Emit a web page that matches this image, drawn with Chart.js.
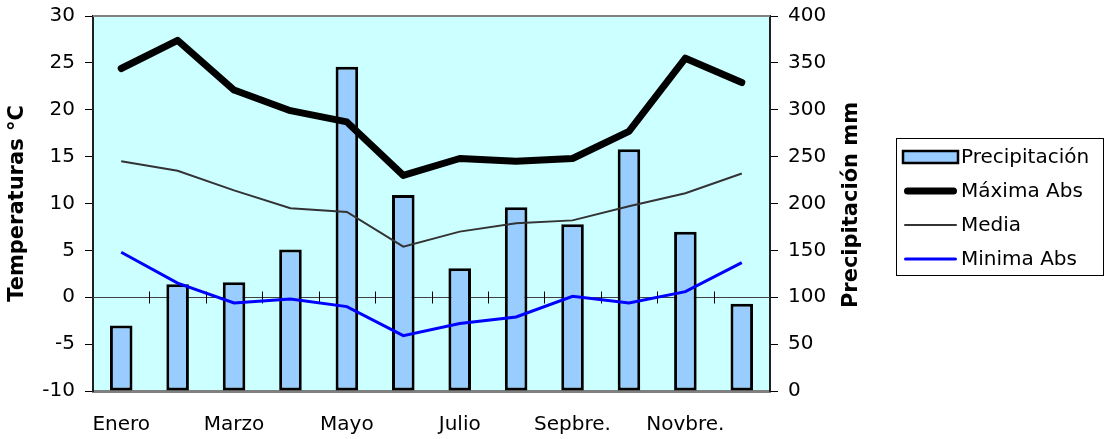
<!DOCTYPE html>
<html>
<head>
<meta charset="utf-8">
<script src="https://cdn.jsdelivr.net/npm/chart.js@4"></script>
<style>
  html, body { margin: 0; padding: 0; background: #fff; }
</style>
</head>
<body>
<canvas id="climaChart" width="1107" height="439"></canvas>
<script>
const months = ['Enero', 'Febrero', 'Marzo', 'Abril', 'Mayo', 'Junio', 'Julio', 'Agosto', 'Sepbre.', 'Octubre', 'Novbre.', 'Dicbre.'];
const precipitacion = [70, 114, 116, 151, 346, 209, 131, 196, 178, 258, 170, 93];
const maximaAbs = [24.4, 27.4, 22.1, 19.9, 18.7, 13.0, 14.8, 14.5, 14.8, 17.7, 25.5, 22.9];
const media = [14.5, 13.5, 11.4, 9.5, 9.1, 5.4, 7.0, 7.9, 8.2, 9.7, 11.1, 13.2];
const minimaAbs = [4.8, 1.5, -0.6, -0.2, -1.0, -4.1, -2.8, -2.1, 0.1, -0.6, 0.6, 3.7];
const tempRange = [-10, 30, 5]; // min, max, step
const precRange = [0, 400, 50];

const FONT = 'DejaVu Sans';
Chart.defaults.font.family = FONT;
Chart.defaults.font.size = 20;
Chart.defaults.color = '#000';

// keep tick label overflow from pushing the plot area down
const fixPadding = (width) => (s) => {
    s.width = width;
    s.paddingTop = 0;
    s.paddingBottom = 0;
};

// plot background, zero line, category ticks, right title and legend
const climaDecor = {
    id: 'climaDecor',
    beforeDraw(chart) {
        const { ctx, chartArea: a } = chart;
        ctx.save();
        ctx.fillStyle = '#ccffff';
        ctx.fillRect(a.left, a.top, a.right - a.left, a.bottom - a.top);
        ctx.restore();
    },
    beforeDatasetsDraw(chart) {
        const { ctx, chartArea: a, scales } = chart;
        const y0 = Math.round(scales.y.getPixelForValue(0)) + 0.5;
        ctx.save();
        ctx.strokeStyle = '#404040';
        ctx.lineWidth = 1;
        ctx.beginPath();
        ctx.moveTo(a.left, y0);
        ctx.lineTo(a.right, y0);
        ctx.stroke();
        ctx.strokeStyle = '#000';
        ctx.beginPath();
        for (let i = 1; i < months.length; i++) {
            const x = Math.round((scales.x.getPixelForValue(i - 1) + scales.x.getPixelForValue(i)) / 2) + 0.5;
            ctx.moveTo(x, y0 - 6);
            ctx.lineTo(x, y0 + 6);
        }
        ctx.stroke();
        // top border of the plot area
        ctx.strokeStyle = '#808080';
        ctx.lineWidth = 2;
        ctx.beginPath();
        ctx.moveTo(a.left, a.top);
        ctx.lineTo(a.right, a.top);
        ctx.stroke();
        ctx.restore();
    },
    afterDraw(chart) {
        const { ctx } = chart;
        ctx.save();
        // right axis title, reads bottom to top
        ctx.translate(852, 205);
        ctx.rotate(-Math.PI / 2);
        ctx.font = 'bold 21px ' + FONT;
        ctx.textAlign = 'center';
        ctx.textBaseline = 'middle';
        ctx.fillStyle = '#000';
        ctx.fillText('Precipitación mm', 0, 0);
        ctx.restore();

        // legend
        ctx.save();
        ctx.strokeStyle = '#000';
        ctx.lineWidth = 1;
        ctx.strokeRect(896.5, 138.5, 207, 137);
        const rows = [157, 191, 225, 259];
        ctx.font = '20px ' + FONT;
        ctx.textBaseline = 'middle';
        ctx.fillStyle = '#000';
        chart.data.datasets.forEach((ds, i) => {
            const y = rows[i];
            if (ds.type === 'bar') {
                ctx.fillStyle = ds.backgroundColor;
                ctx.fillRect(903, y - 6, 55, 12);
                ctx.lineWidth = 2.5;
                ctx.strokeStyle = '#000';
                ctx.strokeRect(903, y - 6, 55, 12);
            } else {
                ctx.strokeStyle = ds.borderColor;
                ctx.lineWidth = ds.borderWidth;
                ctx.lineCap = 'round';
                ctx.beginPath();
                ctx.moveTo(904 + ds.borderWidth / 2, y);
                ctx.lineTo(957 - ds.borderWidth / 2, y);
                ctx.stroke();
            }
            ctx.fillStyle = '#000';
            ctx.fillText(ds.label, 961, y + 1);
        });
        ctx.restore();
    }
};

new Chart(document.getElementById('climaChart'), {
    data: {
        labels: months,
        datasets: [
            {
                type: 'bar',
                label: 'Precipitación',
                data: precipitacion,
                yAxisID: 'y1',
                backgroundColor: '#99ccff',
                borderColor: '#000',
                borderWidth: 3,
                borderSkipped: false,
                categoryPercentage: 1,
                barPercentage: 0.4,
                order: 2,
            },
            {
                type: 'line',
                label: 'Máxima Abs',
                data: maximaAbs,
                yAxisID: 'y',
                borderColor: '#000',
                borderWidth: 7,
                borderJoinStyle: 'round',
                borderCapStyle: 'round',
                tension: 0,
                pointRadius: 0,
                order: 1,
            },
            {
                type: 'line',
                label: 'Media',
                data: media,
                yAxisID: 'y',
                borderColor: '#333333',
                borderWidth: 2,
                tension: 0,
                pointRadius: 0,
                order: 1,
            },
            {
                type: 'line',
                label: 'Minima Abs',
                data: minimaAbs,
                yAxisID: 'y',
                borderColor: '#0000ff',
                borderWidth: 3,
                tension: 0,
                pointRadius: 0,
                order: 1,
            },
        ],
    },
    options: {
        responsive: false,
        animation: false,
        layout: { padding: { top: 16, left: 0, right: 0, bottom: 0 } },
        plugins: {
            legend: { display: false },
            tooltip: { enabled: false },
        },
        scales: {
            x: {
                type: 'category',
                offset: true,
                grid: { display: false, drawTicks: false },
                border: { display: true, color: '#808080', width: 3 },
                ticks: {
                    autoSkip: false,
                    maxRotation: 0,
                    padding: 22,
                    callback: (v, i) => (i % 2 === 0 ? months[i] : ''),
                },
                afterFit: (s) => { s.height = 48; },
            },
            y: {
                position: 'left',
                min: tempRange[0],
                max: tempRange[1],
                ticks: { stepSize: tempRange[2], padding: 10 },
                grid: { drawOnChartArea: false, tickLength: 8, color: '#000' },
                border: { display: true, color: '#202020', width: 2 },
                title: {
                    display: true,
                    text: 'Temperaturas °C',
                    font: { size: 21, weight: 'bold' },
                    padding: { top: 5, bottom: 0 },
                },
                afterFit: fixPadding(93),
            },
            y1: {
                position: 'right',
                min: precRange[0],
                max: precRange[1],
                ticks: { stepSize: precRange[2], padding: 10 },
                grid: { drawOnChartArea: false, tickLength: 8, color: '#000' },
                border: { display: true, color: '#202020', width: 2 },
                afterFit: fixPadding(337),
            },
        },
    },
    plugins: [climaDecor],
});
</script>
</body>
</html>
